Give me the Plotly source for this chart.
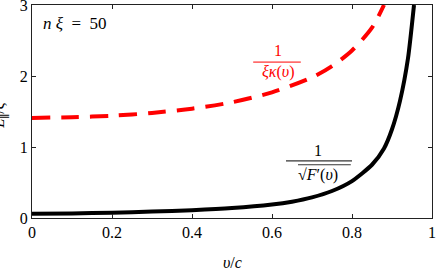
import plotly.graph_objects as go

# Data
v_red = [0.0, 0.1, 0.2, 0.3, 0.4, 0.5, 0.6, 0.7, 0.75, 0.8, 0.85, 0.88]
red_vals = [1.41, 1.42, 1.44, 1.48, 1.54, 1.63, 1.77, 1.98, 2.14, 2.36, 2.68, 3.0]

v_black = [0.0, 0.1, 0.2, 0.3, 0.4, 0.5, 0.6, 0.65, 0.7, 0.75, 0.8, 0.85, 0.88, 0.9, 0.92, 0.94, 0.955]
black_vals = [0.06, 0.065, 0.075, 0.09, 0.11, 0.14, 0.19, 0.23, 0.29, 0.38, 0.52, 0.75, 0.98, 1.25, 1.65, 2.25, 3.0]

x_ticks = [0, 0.2, 0.4, 0.6, 0.8, 1]
x_ticklabels = ["0", "0.2", "0.4", "0.6", "0.8", "1"]
y_ticks = [0, 1, 2, 3]
y_ticklabels = ["0", "1", "2", "3"]

FONT = "Liberation Serif, Times New Roman, DejaVu Serif, serif"

fig = go.Figure()
fig.add_trace(go.Scatter(x=v_red, y=red_vals, mode="lines",
                         line=dict(color="#ff0000", width=4, dash="18px,11px", shape="spline", smoothing=0.8),
                         hoverinfo="skip", showlegend=False))
fig.add_trace(go.Scatter(x=v_black, y=black_vals, mode="lines",
                         line=dict(color="#000000", width=4, shape="spline", smoothing=0.6),
                         hoverinfo="skip", showlegend=False))

axis_common = dict(showgrid=False, zeroline=False, showline=True, linecolor="#222222", linewidth=1.3,
                   mirror="ticks", ticks="inside", ticklen=4, tickcolor="#222222", tickwidth=1,
                   ticklabeloverflow="allow", automargin=False,
                   tickfont=dict(family=FONT, size=16, color="#000000"))

fig.update_layout(
    width=436, height=270,
    margin=dict(l=32, r=4, t=5, b=52, autoexpand=False),
    paper_bgcolor="white", plot_bgcolor="white",
    font=dict(family=FONT, size=16, color="#000000"),
    xaxis=dict(range=[0, 1], tickvals=x_ticks, ticktext=x_ticklabels, **axis_common),
    yaxis=dict(range=[0, 3], tickvals=y_ticks, ticktext=y_ticklabels, **axis_common),
    annotations=[
        dict(text="<i>υ</i>/<i>c</i>", xref="paper", yref="paper", x=0.5, y=-0.211,
             xanchor="center", yanchor="middle", showarrow=False, font=dict(family=FONT, size=16)),
        dict(text="<i>n</i> <i>ξ</i>  =  50", xref="paper", yref="paper", x=0.022, y=0.915,
             xanchor="left", yanchor="middle", showarrow=False, font=dict(family=FONT, size=17)),
        dict(text="<i>L</i><sub>∥</sub>/<i>ξ</i>", xref="paper", yref="paper", x=-0.08, y=0.48,
             textangle=-90, xanchor="center", yanchor="middle", showarrow=False,
             font=dict(family=FONT, size=16)),
        # red label
        dict(text="1", xref="paper", yref="paper", x=0.615, y=0.785, xanchor="center", yanchor="middle",
             showarrow=False, font=dict(family=FONT, size=16, color="#ff0000")),
        dict(text="<i>ξκ</i>(<i>υ</i>)", xref="paper", yref="paper", x=0.615, y=0.685, xanchor="center",
             yanchor="middle", showarrow=False, font=dict(family=FONT, size=16, color="#ff0000")),
        # black label
        dict(text="1", xref="paper", yref="paper", x=0.715, y=0.318, xanchor="center", yanchor="middle",
             showarrow=False, font=dict(family=FONT, size=16, color="#000000")),
        dict(text="√<i>F</i>′(<i>υ</i>)", xref="paper", yref="paper",
             x=0.715, y=0.2, xanchor="center", yanchor="middle", showarrow=False,
             font=dict(family=FONT, size=16, color="#000000")),
    ],
    shapes=[
        dict(type="line", xref="paper", yref="paper", x0=0.553, x1=0.672, y0=0.732, y1=0.732,
             line=dict(color="#ff0000", width=1)),
        dict(type="line", xref="paper", yref="paper", x0=0.635, x1=0.80, y0=0.268, y1=0.268,
             line=dict(color="#000000", width=1)),
        # radical overbar
        dict(type="line", xref="paper", yref="paper", x0=0.665, x1=0.797, y0=0.25, y1=0.25,
             line=dict(color="#000000", width=0.8)),
    ],
)

fig.write_html("out.html", config={"displayModeBar": False},
               post_script="document.body.style.margin='0';document.body.style.padding='0';")
